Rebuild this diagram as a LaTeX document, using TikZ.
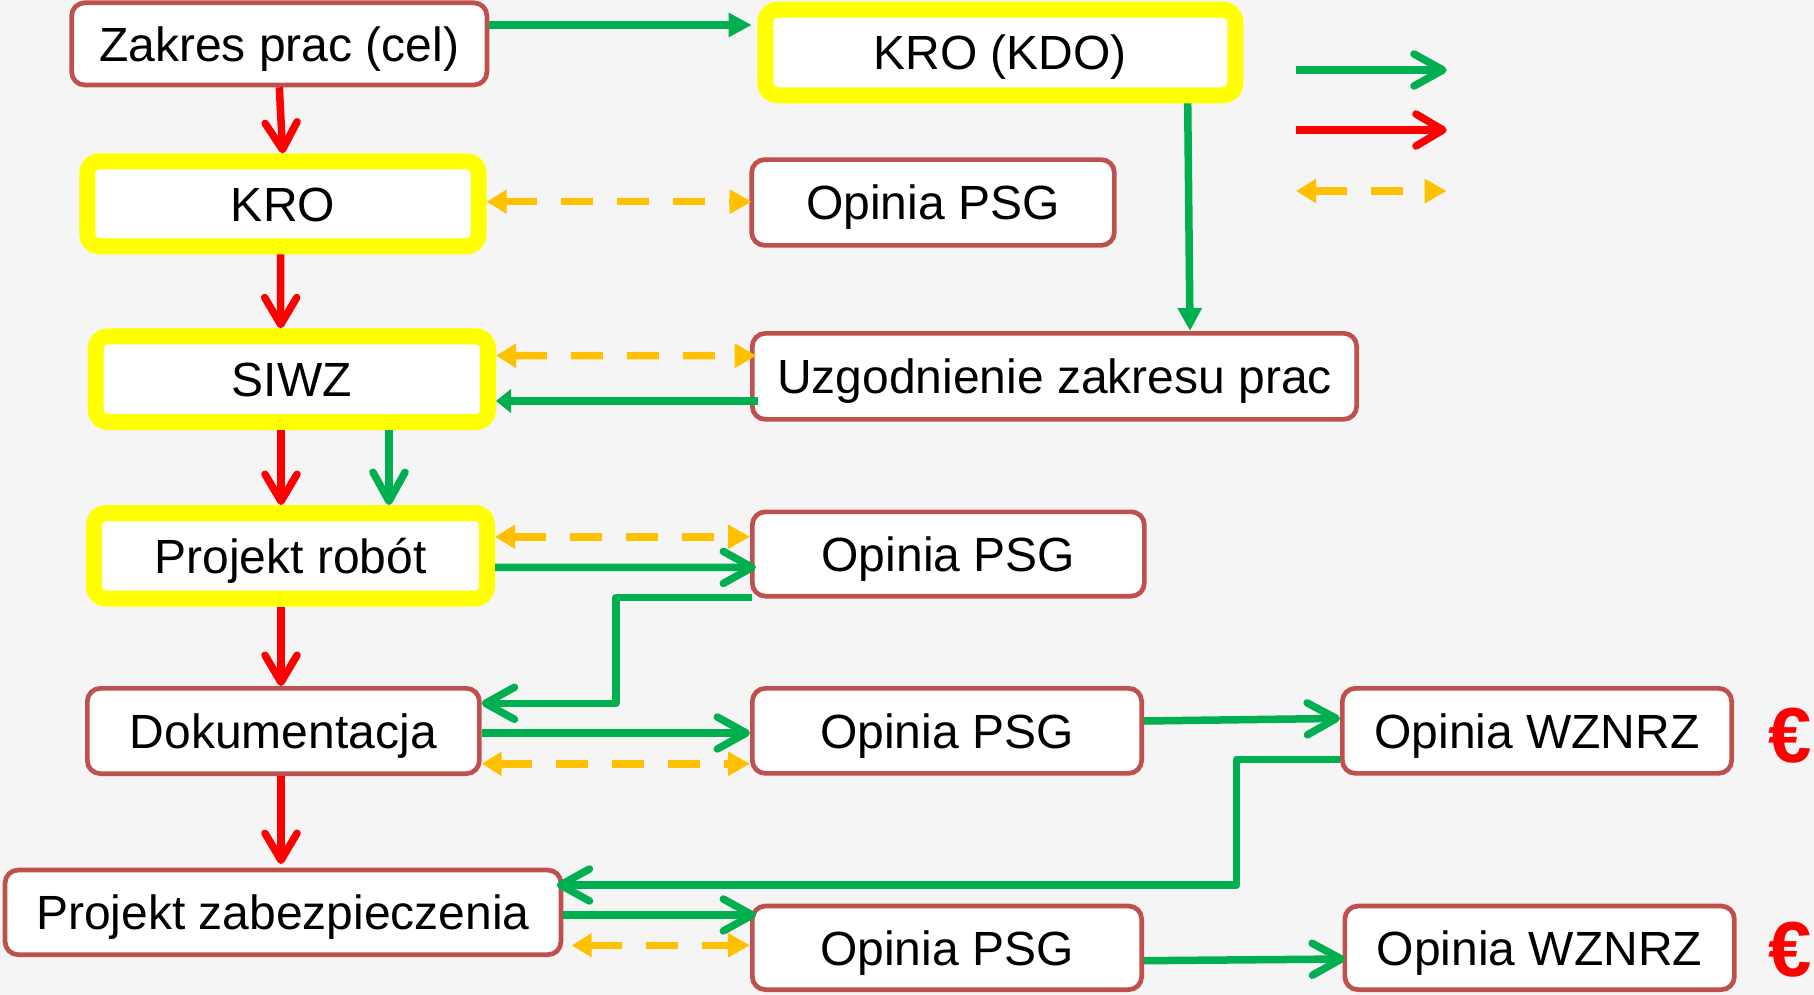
\documentclass[tikz,border=0pt]{standalone}
\usepackage{fontspec}
\setmainfont{Liberation Sans}
\usetikzlibrary{arrows.meta}
\definecolor{bg}{HTML}{F5F5F5}
\definecolor{boxred}{HTML}{C0504D}
\definecolor{hlyellow}{HTML}{FFFF00}
\definecolor{arrgreen}{HTML}{00B050}
\definecolor{arrred}{HTML}{FF0000}
\definecolor{arrorange}{HTML}{FFC000}
\tikzset{
  boxtext/.style={inner sep=0pt, fill=white, text height=34.4pt, text depth=0pt,
    font=\fontsize{48pt}{58pt}\selectfont},
  rbox/.style={boxtext, draw=boxred, line width=4.7pt, rounded corners=13pt},
  ybox/.style={boxtext, draw=hlyellow, line width=16pt, rounded corners=12pt},
  euro/.style={inner sep=0pt, text=arrred, font=\fontsize{78pt}{90pt}\selectfont\bfseries},
  flow/.style={line width=7.5pt},
  redarr/.style={flow, draw=arrred, -{Straight Barb[length=27pt,width=32pt,round]}},
  grnopen/.style={flow, draw=arrgreen, line join=round, -{Straight Barb[length=29pt,width=32pt,round]}},
  grntri/.style={flow, draw=arrgreen, -{Triangle[length=23pt,width=23pt]}},
  grntrishort/.style={flow, draw=arrgreen, -{Triangle[length=15pt,width=23pt]}},
  orng/.style={flow, draw=arrorange, dash pattern=on 32pt off 24pt,
    {Triangle[length=20pt,width=23pt]}-{Triangle[length=22pt,width=23pt]}},
}
\begin{document}
\begin{tikzpicture}[x=1pt,y=-1pt]
\fill[bg] (0,0) rectangle (1814,995);
\useasboundingbox (0,0) rectangle (1814,995);

% boxes
\node[rbox, minimum width=415.3pt, minimum height=82.1pt] (zakres) at (279.3,43.9) {Zakres prac (cel)};
\node[ybox, minimum width=470pt, minimum height=85.6pt] (krokdo) at (1000.3,52.5) {KRO (KDO)};
\node[ybox, minimum width=391.4pt, minimum height=85pt] (kro) at (283,203.8) {KRO};
\node[rbox, minimum width=362.7pt, minimum height=85.7pt] (psg1) at (933,202.5) {Opinia PSG};
\node[ybox, minimum width=392.3pt, minimum height=85.7pt] (siwz) at (291.85,379.15) {SIWZ};
\node[rbox, minimum width=604.3pt, minimum height=86pt] (uzg) at (1054.5,376.35) {Uzgodnienie zakresu prac};
\node[ybox, minimum width=393pt, minimum height=85.7pt] (projrob) at (290.5,555.85) {Projekt robót};
\node[rbox, minimum width=392pt, minimum height=84.3pt] (psg2) at (948.35,554) {Opinia PSG};
\node[rbox, minimum width=392pt, minimum height=85.3pt] (dok) at (283.35,731) {Dokumentacja};
\node[rbox, minimum width=389.3pt, minimum height=85pt] (psg3) at (947,730.85) {Opinia PSG};
\node[rbox, minimum width=389.3pt, minimum height=85pt] (wznrz1) at (1537,730.85) {Opinia WZNRZ};
\node[rbox, minimum width=555.9pt, minimum height=84.6pt] (projzab) at (283,912.35) {Projekt zabezpieczenia};
\node[rbox, minimum width=389.3pt, minimum height=83.6pt] (psg4) at (947,947.85) {Opinia PSG};
\node[rbox, minimum width=389.5pt, minimum height=83.6pt] (wznrz2) at (1539.6,947.85) {Opinia WZNRZ};
\node[euro, anchor=base west] (eur1) at (1768,762.5) {€};
\node[euro, anchor=base west] (eur2) at (1768,976) {€};

% red flow
\draw[redarr] (zakres.south) -- ([xshift=-0.3pt]kro.north);
\draw[redarr] ([xshift=-2.3pt]kro.south) -- ([xshift=-11.15pt]siwz.north);
\draw[redarr] ([xshift=-10.85pt]siwz.south) -- ([xshift=-9.5pt]projrob.north);
\draw[redarr] ([xshift=-9.5pt]projrob.south) -- ([xshift=-2.35pt]dok.north);
\draw[redarr, shorten >=3.7pt] ([xshift=-2.35pt]dok.south) -- ([xshift=-2pt]projzab.north);

% green
\draw[grntri] ([yshift=18.9pt]zakres.east) -- ([xshift=-5.6pt,yshift=27.5pt]krokdo.west);
\draw[grntri] ([xshift=187.4pt]krokdo.south) -- ([xshift=135.5pt]uzg.north);
\draw[grntrishort, shorten <=-7.7pt] ([yshift=-24.65pt]uzg.west) -- ([yshift=-21.85pt]siwz.east);
\draw[grnopen] ([xshift=97.15pt]siwz.south) -- ([xshift=98.5pt]projrob.north);
\draw[grnopen, shorten >=-6pt] ([yshift=-11.55pt]projrob.east) -- ([yshift=-13.4pt]psg2.west);
\draw[grnopen] ([xshift=1.7pt,yshift=1pt]psg2.south west) -- ++(-135.7,0) |- ([yshift=27.7pt]dok.east);
\draw[grnopen] ([yshift=-2pt]dok.east) -- ([yshift=-2.15pt]psg3.west);
\draw[grnopen] ([yshift=9.85pt]psg3.east) -- ([yshift=12.45pt]wznrz1.west);
\draw[grnopen, shorten >=-6.6pt] ([yshift=-28.45pt]wznrz1.west) -- ++(-103.3,0) |- ([yshift=27.35pt]projzab.east);
\draw[grnopen, shorten >=-6pt] ([yshift=-2.65pt]projzab.east) -- ([yshift=32.85pt]psg4.west);
\draw[grnopen, shorten >=-2.5pt] ([yshift=-12.85pt]psg4.east) -- ([yshift=-11.15pt]wznrz2.west);

% orange dashed
\draw[orng, shorten >=-2.4pt] ([yshift=2.1pt]kro.east) -- ([yshift=0.8pt]psg1.west);
\draw[orng, shorten >=-6.7pt] ([yshift=23.45pt]siwz.east) -- ([yshift=20.65pt]uzg.west);
\draw[orng] ([yshift=19.05pt]projrob.east) -- ([yshift=17.2pt]psg2.west);
\draw[orng] ([yshift=-32.8pt]dok.east) -- ([yshift=-32.95pt]psg3.west);
\draw[orng, shorten <=8.4pt] ([yshift=-32.95pt]projzab.east) -- ([yshift=2.55pt]psg4.west);

% legend
\coordinate (lga) at (1296,70);
\coordinate (lgb) at (1446.7,70);
\coordinate (lgc) at (1296,130);
\coordinate (lgd) at (1446.7,130);
\coordinate (lge) at (1296,191);
\coordinate (lgf) at (1446.7,191);
\draw[grnopen] (lga) -- (lgb);
\draw[redarr] (lgc) -- (lgd);
\draw[orng] (lge) -- (lgf);
\end{tikzpicture}
\end{document}
